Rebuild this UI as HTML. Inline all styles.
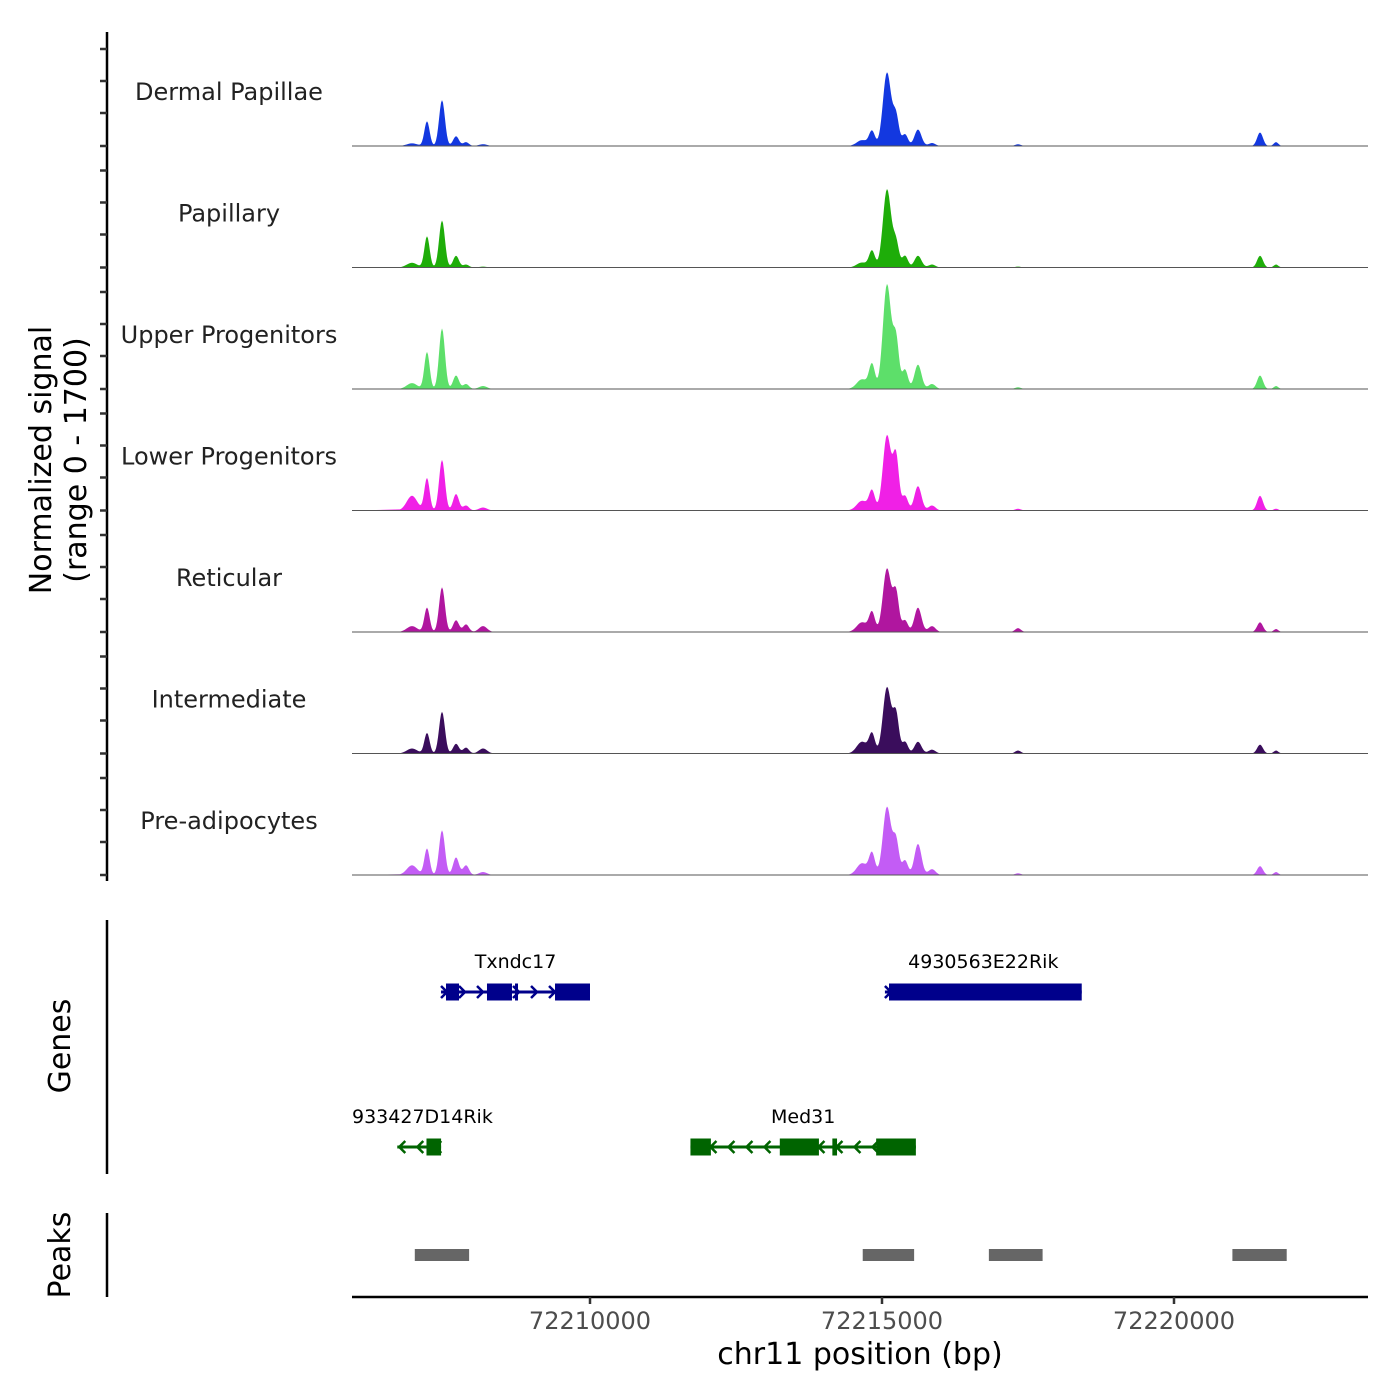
<!DOCTYPE html>
<html><head><meta charset="utf-8"><style>
body{margin:0;background:#fff;}
svg{display:block;font-family:"DejaVu Sans","Liberation Sans",sans-serif;}
</style></head><body>
<svg id="chart" width="1400" height="1400" viewBox="0 0 1400 1400">
<g id="tracks"></g>
<g id="yaxis"></g>
<text x="51" y="460" font-size="30" text-anchor="middle" transform="rotate(-90 51 460)">Normalized signal</text>
<text x="86" y="460" font-size="30" text-anchor="middle" transform="rotate(-90 86 460)">(range 0 - 1700)</text>
<g id="genes"></g>
<line x1="107" y1="920" x2="107" y2="1174" stroke="#000" stroke-width="2.5"/>
<text x="70" y="1046" font-size="30" text-anchor="middle" transform="rotate(-90 70 1046)">Genes</text>
<g id="peaks"></g>
<line x1="107" y1="1213" x2="107" y2="1297" stroke="#000" stroke-width="2.5"/>
<text x="70" y="1255" font-size="30" text-anchor="middle" transform="rotate(-90 70 1255)">Peaks</text>
<g id="xaxis"></g>
<text x="860" y="1364" font-size="30" text-anchor="middle">chr11 position (bp)</text>
</svg>
<script>
const NS="http://www.w3.org/2000/svg";
const trackNames=["Dermal Papillae","Papillary","Upper Progenitors","Lower Progenitors","Reticular","Intermediate","Pre-adipocytes"];
const trackColors=["#1338e0","#1ead09","#5ddf6a","#f020e6","#b0169f","#3a0d5c","#c35cf5"];
const peakPositions=[72206952,72207209,72207466,72207706,72207877,72208168,72214658,72214829,72215086,72215240,72215394,72215616,72215856,72217329,72221473,72221747];
const peakWidths=[90,45,50,50,50,70,90,50,70,50,50,60,60,50,50,40];
const hDermal=[45,420,780,165,65,30,100,250,1250,500,200,280,50,30,230,65];
const hPapillary=[80,530,800,200,50,15,85,280,1330,415,200,200,50,15,200,50];
const hUpper=[100,630,1030,230,85,50,165,415,1780,830,330,415,85,30,230,50];
const hLower=[250,550,860,280,85,50,165,330,1280,910,250,415,85,30,250,30];
const hReticular=[100,415,760,200,130,100,165,330,1080,660,200,415,100,65,165,50];
const hIntermediate=[85,350,710,165,100,85,200,330,1130,660,200,200,65,50,150,50];
const hPreadipo=[165,450,760,300,165,50,200,365,1160,580,250,530,100,30,150,50];
const trackHeights=[hDermal,hPapillary,hUpper,hLower,hReticular,hIntermediate,hPreadipo];
const xTicks=[72210000,72215000,72220000];
const genesBlue=[{name:"Txndc17",start:72207449,end:72210000,strand:1,exons:[[72207534,72207757],[72208236,72208664],[72208716,72208767],[72209401,72210000]]},
{name:"4930563E22Rik",start:72215050,end:72218420,strand:1,exons:[[72215120,72218420]]}];
const genesGreen=[{name:"933427D14Rik",start:72206700,end:72207450,strand:-1,exons:[[72207200,72207450]]},
{name:"Med31",start:72211720,end:72215580,strand:-1,exons:[[72211720,72212070],[72213250,72213920],[72214150,72214230],[72214900,72215580]]}];
const peakRegions=[[72207000,72207930],[72214670,72215550],[72216830,72217750],[72221000,72221930]];

const X0=72210000, PX0=590, SCALE=292/5000;
function xs(bp){return PX0+(bp-X0)*SCALE;}
const YMAX=1700, PANEL_H=121.5, BASE0=146;
function ys(v,i){return BASE0+i*PANEL_H - v/YMAX*100;}
function mk(tag,attrs,parent){const e=document.createElementNS(NS,tag);for(const k in attrs)e.setAttribute(k,attrs[k]);parent.appendChild(e);return e;}

const gT=document.getElementById('tracks');
const XL=352, XR=1368;
trackNames.forEach((nm,i)=>{
  const heights=trackHeights[i];
  let d="M"+XL+","+ys(0,i);
  for(let px=400;px<=1330;px+=1){
    const bp=X0+(px-PX0)/SCALE;
    let v=0;
    for(let k=0;k<peakPositions.length;k++){const z=(bp-peakPositions[k])/peakWidths[k];v+=heights[k]*Math.exp(-0.5*z*z);}
    d+=" L"+px+","+ys(v,i).toFixed(2);
  }
  d+=" L"+XR+","+ys(0,i)+" Z";
  const p=mk('path',{d:d,fill:trackColors[i],stroke:'none'},gT);
  
  
  const bl=mk('line',{x1:XL,x2:XR,y1:ys(0,i),y2:ys(0,i),stroke:'#555',"stroke-width":1},gT);
  
  
  const t=mk('text',{x:229,y:ys(0,i)-46,"font-size":24,"text-anchor":"middle",fill:"#222"},gT);
  t.textContent=nm;
  
  
});
const gY=document.getElementById('yaxis');
const ax=mk('line',{x1:107,x2:107,y1:32,y2:881,stroke:'#000',"stroke-width":2.5},gY);


for(let i=0;i<7;i++){[0,33,65,97].forEach(o=>{
  const y=BASE0+i*PANEL_H-o;
  const tk=mk('line',{x1:100,x2:107,y1:y,y2:y,stroke:'#333',"stroke-width":2.5},gY);
  
  
});}

const gG=document.getElementById('genes');
function drawGene(g,y,color){
  const grp=mk('g',{},gG);
  
  
  mk('line',{x1:xs(g.start),x2:xs(g.end),y1:y,y2:y,stroke:color,"stroke-width":3},grp);
  const step=18;
  for(let x=xs(g.start)+4;x<xs(g.end)-2;x+=step){
    const s=g.strand;
    mk('polyline',{points:`${x-4*s},${y-6} ${x+2*s},${y} ${x-4*s},${y+6}`,fill:'none',stroke:color,"stroke-width":2.5},grp);
  }
  g.exons.forEach(e=>{mk('rect',{x:xs(e[0]),y:y-8.5,width:Math.max(3,xs(e[1])-xs(e[0])),height:17,fill:color},grp);});
  const mid=(xs(g.start)+xs(g.end))/2;
  let tx=mid, anchor='middle';
  if(xs(g.start)-60<352){tx=352;anchor='start';}
  const t=mk('text',{x:tx,y:y-24,"font-size":19,"text-anchor":anchor,fill:'#000'},grp);
  t.textContent=g.name;
  
  
}
genesBlue.forEach(g=>drawGene(g,992,'#00008b'));
genesGreen.forEach(g=>drawGene(g,1147,'#006400'));

const gP=document.getElementById('peaks');
peakRegions.forEach(r=>{
  const rc=mk('rect',{x:xs(r[0]),y:1249,width:xs(r[1])-xs(r[0]),height:12,fill:'#666'},gP);
  
  
});

const gX=document.getElementById('xaxis');
mk('line',{x1:352,x2:1368,y1:1297,y2:1297,stroke:'#000',"stroke-width":2.5},gX);
xTicks.forEach(v=>{
  const tk=mk('line',{x1:xs(v),x2:xs(v),y1:1297,y2:1304,stroke:'#333',"stroke-width":2.5},gX);
  
  
  const t=mk('text',{x:xs(v),y:1329,"font-size":24,"text-anchor":"middle",fill:'#4d4d4d'},gX);
  t.textContent=v;
  
  
});
</script>
</body></html>
